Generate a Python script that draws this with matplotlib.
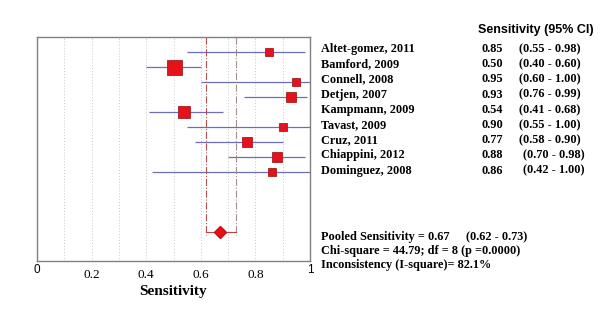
import matplotlib.pyplot as plt
import numpy as np

studies = ["Altet-gomez, 2011", "Bamford, 2009", "Connell, 2008", "Detjen, 2007",
           "Kampmann, 2009", "Tavast, 2009", "Cruz, 2011", "Chiappini, 2012",
           "Dominguez, 2008"]
sens = [0.85, 0.50, 0.95, 0.93, 0.54, 0.90, 0.77, 0.88, 0.86]
lower = [0.55, 0.40, 0.60, 0.76, 0.41, 0.55, 0.58, 0.70, 0.42]
upper = [0.98, 0.60, 1.00, 0.99, 0.68, 1.00, 0.90, 0.98, 1.00]
weight = [0.58, 1.0, 0.49, 0.71, 0.85, 0.53, 0.71, 0.71, 0.53]
pooled, pooled_lo, pooled_hi = 0.67, 0.62, 0.73
chi2, df_, pval, i2 = 44.79, 8, "0.0000", 82.1

serif = "Liberation Serif"
sans = "Liberation Sans"

fig = plt.figure(figsize=(6.0, 3.17), dpi=100)
ax = fig.add_axes([37/600, 1 - 261/317, 273/600, 224/317])

ypos = np.arange(len(studies))
ypool = 12

for x in np.arange(0.1, 1.0, 0.1):
    ax.axvline(x, color="#c8c8c8", lw=0.7, ls=(0, (1, 2)), zorder=0)

ax.hlines(ypos, lower, upper, color="#6e6eb8", lw=0.9, zorder=1)
for y, s, w in zip(ypos, sens, weight):
    ax.plot(s, y, marker="s", ms=10.8 * w, mfc="#e8101a", mec="#a02020", mew=0.6, zorder=2)

ax.plot([pooled_lo, pooled_lo], [-1, ypool + 0.2], color="#b05050", lw=0.8, ls="-.")
ax.plot([pooled_hi, pooled_hi], [-1, ypool + 0.2], color="#a09090", lw=0.8, ls="-.")
ax.plot([pooled_lo, pooled_hi], [ypool, ypool], color="#c04040", lw=0.8)
ax.plot(pooled, ypool, marker="D", ms=6, mfc="#e8101a", mec="#c01010", zorder=3)

ax.set_xlim(0, 1)
ax.set_ylim(13.93, -1)
ax.set_yticks([])
ax.set_xticks([])
for sp in ax.spines.values():
    sp.set_color("#808080")
    sp.set_linewidth(1.0)


def fy(py):
    return 1 - py / 317


# x tick labels
for t in [0, 1]:
    fig.text((37 + 273 * t) / 600, fy(270), f"{t}", ha="center", va="center",
             fontsize=8.5, family=sans)
for t in [0.2, 0.4, 0.6, 0.8]:
    fig.text((37 + 273 * t) / 600, fy(275), f"{t:.1f}", ha="center", va="center",
             fontsize=9.5, family=serif)
fig.text((37 + 273 * 0.5) / 600, fy(291), "Sensitivity", ha="center", va="center",
         fontsize=11, family=serif, fontweight="bold")

# right-hand table
fig.text(478/600, fy(30), "Sensitivity (95% CI)", ha="left", va="center",
         fontsize=9, family=sans, fontweight="bold")
for i, (name, s, lo, hi) in enumerate(zip(studies, sens, lower, upper)):
    yy = fy(49 + 15.2 * i)
    fig.text(321/600, yy, name, ha="left", va="center", fontsize=8.8,
             family=serif, fontweight="bold")
    fig.text(482/600, yy, f"{s:.2f}", ha="left", va="center", fontsize=8.8,
             family=serif, fontweight="bold")
    xci = 523 if i >= 7 else 519
    fig.text(xci/600, yy, f"({lo:.2f} - {hi:.2f})", ha="left", va="center",
             fontsize=8.8, family=serif, fontweight="bold")

fig.text(321/600, fy(237), f"Pooled Sensitivity = {pooled:.2f}", ha="left", va="center",
         fontsize=8.8, family=serif, fontweight="bold")
fig.text(466/600, fy(237), f"({pooled_lo:.2f} - {pooled_hi:.2f})", ha="left", va="center",
         fontsize=8.8, family=serif, fontweight="bold")
fig.text(321/600, fy(251), f"Chi-square = {chi2:.2f}; df = {df_} (p ={pval})",
         ha="left", va="center", fontsize=8.8, family=serif, fontweight="bold")
fig.text(321/600, fy(265), f"Inconsistency (I-square)= {i2:.1f}%",
         ha="left", va="center", fontsize=8.8, family=serif, fontweight="bold")

fig.savefig("out.png", dpi=100, facecolor="white")
